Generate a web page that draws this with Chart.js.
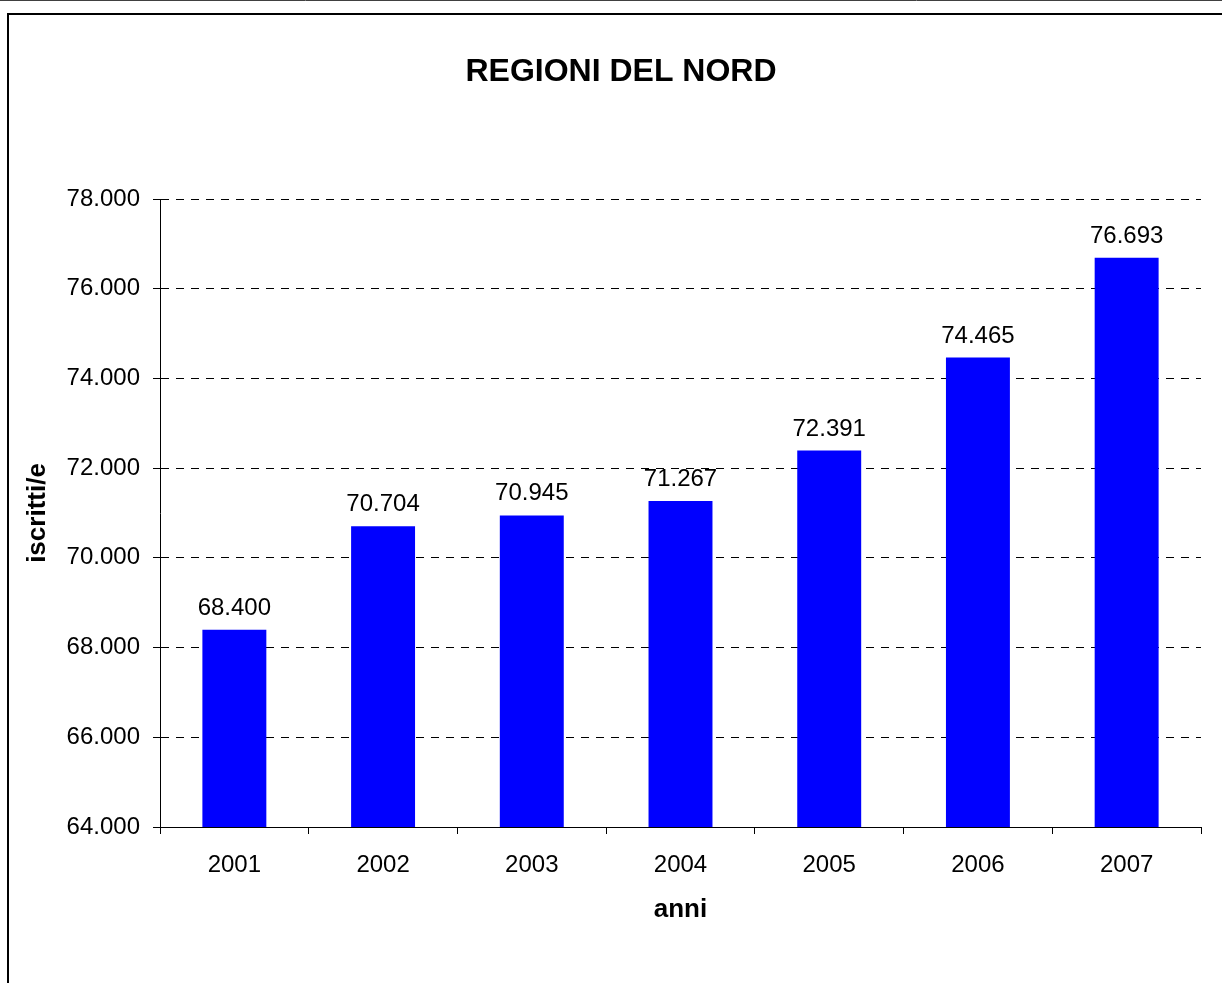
<!DOCTYPE html>
<html>
<head>
<meta charset="utf-8">
<script src="https://cdn.jsdelivr.net/npm/chart.js@4/dist/chart.umd.min.js"></script>
<style>
html,body{margin:0;padding:0;background:#fff;}
#wrap{position:relative;width:1222px;height:983px;}
</style>
</head>
<body>
<div id="wrap"><canvas id="c"></canvas></div>
<script>
const categories = ['2001','2002','2003','2004','2005','2006','2007'];
const iscritti = [68400, 70704, 70945, 71267, 72391, 74465, 76693];
const yMin = 64000, yMax = 78000, yStep = 2000;
const chartTitle = 'REGIONI DEL NORD';
const xTitle = 'anni';
const yTitle = 'iscritti/e';

function fmt(v){
  return String(Math.round(v)).replace(/\B(?=(\d{3})+(?!\d))/g, '.');
}

const FONT = "'Liberation Sans', Arial, sans-serif";

const framePlugin = {
  id: 'frame',
  beforeDraw(chart){
    const ctx = chart.ctx;
    ctx.save();
    ctx.fillStyle = '#fff';
    ctx.fillRect(0,0,chart.width,chart.height);
    ctx.strokeStyle = '#404040';
    ctx.lineWidth = 1;
    ctx.beginPath(); ctx.moveTo(0,0.5); ctx.lineTo(chart.width,0.5); ctx.stroke();
    ctx.strokeStyle = '#000';
    ctx.lineWidth = 2;
    ctx.strokeRect(8, 14, chart.width + 20, chart.height + 20);
    ctx.restore();
  }
};

const labelPlugin = {
  id: 'barLabels',
  afterDatasetsDraw(chart){
    const ctx = chart.ctx;
    ctx.save();
    ctx.font = '24px ' + FONT;
    ctx.fillStyle = '#000';
    ctx.textAlign = 'center';
    ctx.textBaseline = 'alphabetic';
    chart.getDatasetMeta(0).data.forEach((bar, i) => {
      ctx.fillText(fmt(chart.data.datasets[0].data[i]), bar.x, bar.y - 15);
    });
    ctx.restore();
  }
};

new Chart(document.getElementById('c'), {
  type: 'bar',
  data: {
    labels: categories,
    datasets: [{
      data: iscritti,
      backgroundColor: '#0000FF',
      borderWidth: 0,
      barPercentage: 0.43,
      categoryPercentage: 1.0
    }]
  },
  options: {
    responsive: true,
    maintainAspectRatio: false,
    animation: false,
    devicePixelRatio: 1,
    layout: { padding: { left: 41, right: 21, top: 0, bottom: 58 } },
    plugins: {
      legend: { display: false },
      tooltip: { enabled: false },
      title: {
        display: true,
        text: chartTitle,
        color: '#000',
        font: { family: FONT, size: 32, weight: 'bold', lineHeight: 1.2 },
        padding: { top: 53.3, bottom: 107.3 }
      }
    },
    scales: {
      x: {
        offset: true,
        grid: {
          display: true,
          offset: true,
          drawOnChartArea: false,
          drawTicks: true,
          tickLength: 7,
          tickColor: '#000',
          color: '#000'
        },
        border: { display: true, color: '#000', width: 1 },
        ticks: {
          color: '#000',
          padding: 17,
          font: { family: FONT, size: 24 }
        },
        title: {
          display: true,
          text: xTitle,
          color: '#000',
          font: { family: FONT, size: 26, weight: 'bold', lineHeight: 1.2 },
          padding: { top: -3, bottom: 0 }
        }
      },
      y: {
        min: yMin,
        max: yMax,
        grid: {
          display: true,
          color: '#000',
          lineWidth: 1,
          drawTicks: true,
          tickLength: 7,
          tickColor: '#000',
          tickBorderDash: []
        },
        border: { display: true, color: '#000', width: 1, dash: [8, 7] },
        ticks: {
          stepSize: yStep,
          color: '#000',
          padding: 13,
          font: { family: FONT, size: 24 },
          callback: (v) => fmt(v)
        },
        title: {
          display: true,
          text: yTitle,
          color: '#000',
          font: { family: FONT, size: 26, weight: 'bold', lineHeight: 1.2 },
          padding: { top: -18.6, bottom: 0 }
        }
      }
    }
  },
  plugins: [framePlugin, labelPlugin]
});
</script>
</body>
</html>
